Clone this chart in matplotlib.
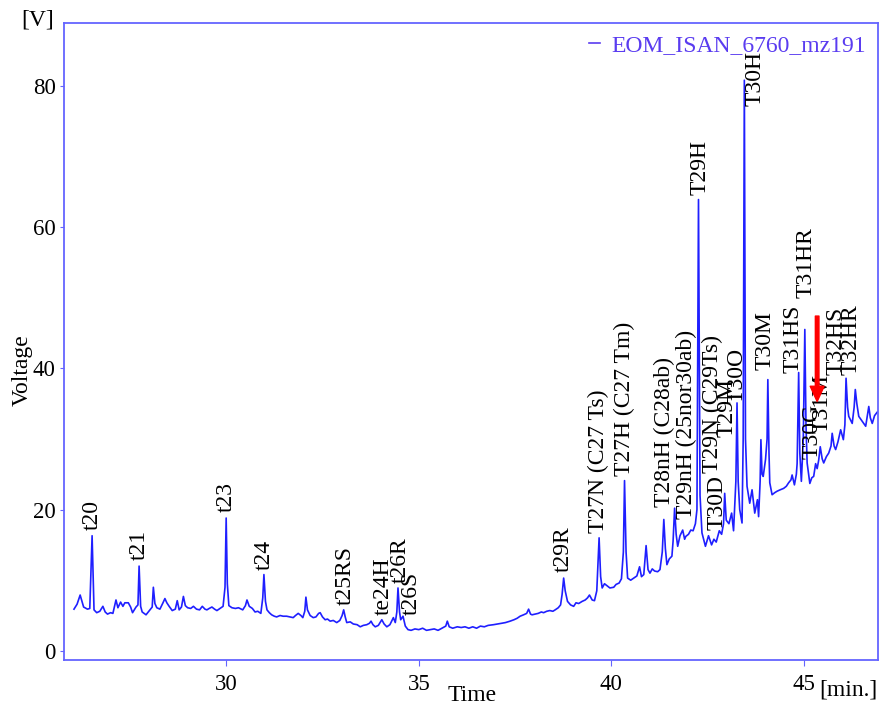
import matplotlib
matplotlib.use("Agg")
import matplotlib.pyplot as plt

# chromatogram trace (time in min, signal in V)
time = [26.05, 26.13, 26.21, 26.30, 26.40, 26.46, 26.52, 26.57, 26.64, 26.72,
        26.80, 26.86, 26.92, 27.00, 27.06, 27.14, 27.19, 27.26, 27.32, 27.37,
        27.46, 27.52, 27.57, 27.66, 27.71, 27.74, 27.78, 27.82, 27.92, 28.02,
        28.08, 28.11, 28.15, 28.20, 28.28, 28.36, 28.41, 28.46, 28.52, 28.60,
        28.68, 28.73, 28.78, 28.84, 28.89, 28.94, 29.00, 29.08, 29.15, 29.23,
        29.31, 29.38, 29.45, 29.50, 29.56, 29.63, 29.70, 29.76, 29.84, 29.92,
        29.97, 30.00, 30.03, 30.07, 30.15, 30.24, 30.32, 30.43, 30.50, 30.54,
        30.60, 30.68, 30.75, 30.82, 30.90, 30.95, 30.98, 31.02, 31.06, 31.12,
        31.18, 31.25, 31.31, 31.40, 31.48, 31.57, 31.65, 31.74, 31.80, 31.87,
        31.94, 31.99, 32.04, 32.07, 32.11, 32.18, 32.26, 32.33, 32.40, 32.44,
        32.50, 32.57, 32.63, 32.70, 32.78, 32.87, 32.95, 33.01, 33.05, 33.09,
        33.13, 33.22, 33.30, 33.40, 33.48, 33.56, 33.65, 33.72, 33.76, 33.81,
        33.87, 33.95, 34.04, 34.10, 34.17, 34.25, 34.34, 34.39, 34.43, 34.46,
        34.50, 34.53, 34.59, 34.65, 34.72, 34.80, 34.90, 35.00, 35.10, 35.20,
        35.30, 35.40, 35.50, 35.60, 35.70, 35.74, 35.79, 35.88, 36.00, 36.10,
        36.20, 36.30, 36.40, 36.50, 36.60, 36.70, 36.80, 36.94, 37.05, 37.15,
        37.25, 37.37, 37.47, 37.55, 37.63, 37.72, 37.80, 37.85, 37.90, 37.94,
        38.02, 38.10, 38.18, 38.24, 38.32, 38.40, 38.48, 38.54, 38.62, 38.68,
        38.72, 38.76, 38.80, 38.86, 38.94, 39.02, 39.08, 39.15, 39.24, 39.32,
        39.38, 39.43, 39.50, 39.56, 39.62, 39.68, 39.72, 39.76, 39.82, 39.89,
        39.96, 40.06, 40.12, 40.20, 40.26, 40.31, 40.34, 40.38, 40.42, 40.50,
        40.58, 40.66, 40.73, 40.78, 40.84, 40.90, 40.95, 41.00, 41.06, 41.12,
        41.20, 41.26, 41.32, 41.36, 41.40, 41.44, 41.50, 41.57, 41.60, 41.64,
        41.68, 41.72, 41.78, 41.85, 41.90, 41.93, 42.00, 42.06, 42.12, 42.18,
        42.22, 42.26, 42.30, 42.35, 42.44, 42.52, 42.60, 42.66, 42.72, 42.80,
        42.86, 42.91, 42.94, 42.98, 43.05, 43.12, 43.17, 43.23, 43.26, 43.29,
        43.33, 43.39, 43.42, 43.45, 43.48, 43.52, 43.59, 43.65, 43.72, 43.79,
        43.82, 43.86, 43.88, 43.91, 43.94, 44.00, 44.04, 44.06, 44.09, 44.11,
        44.17, 44.24, 44.30, 44.38, 44.47, 44.54, 44.60, 44.66, 44.69, 44.75,
        44.80, 44.82, 44.86, 44.89, 44.93, 44.98, 45.02, 45.05, 45.08, 45.15,
        45.20, 45.25, 45.30, 45.34, 45.38, 45.42, 45.47, 45.51, 45.58, 45.64,
        45.70, 45.73, 45.78, 45.82, 45.88, 45.95, 46.02, 46.06, 46.09, 46.13,
        46.16, 46.25, 46.30, 46.33, 46.37, 46.42, 46.51, 46.60, 46.65, 46.68,
        46.72, 46.77, 46.83, 46.90]

voltage = [5.9, 6.6, 7.9, 6.2, 5.9, 6.0, 16.3, 5.8, 5.4, 5.6,
           6.3, 5.5, 5.2, 5.4, 5.3, 7.2, 6.1, 6.9, 6.3, 6.8,
           6.8, 6.2, 5.4, 6.2, 6.5, 12.0, 6.3, 5.5, 5.1, 5.8,
           6.2, 9.0, 6.7, 6.1, 5.9, 6.8, 7.4, 6.8, 6.3, 5.7,
           5.9, 7.1, 5.8, 6.2, 7.7, 6.4, 6.1, 6.0, 6.3, 5.9,
           5.8, 6.3, 5.9, 5.8, 6.0, 6.2, 5.9, 5.7, 6.0, 6.3,
           9.0, 18.8, 9.5, 6.4, 6.1, 6.0, 6.1, 5.8, 6.4, 7.2,
           6.3, 6.0, 5.5, 5.6, 5.3, 7.5, 10.8, 7.0, 5.8, 5.4,
           5.1, 4.9, 4.8, 5.0, 4.9, 4.9, 4.8, 4.7, 5.0, 5.3,
           5.0, 4.7, 5.6, 7.6, 5.8, 5.0, 4.7, 4.8, 5.3, 5.4,
           4.8, 4.4, 4.5, 4.2, 4.3, 4.0, 4.3, 5.0, 5.8, 4.8,
           4.0, 4.1, 3.8, 3.7, 3.4, 3.6, 3.7, 3.9, 4.2, 3.7,
           3.4, 3.6, 4.4, 3.8, 3.4, 3.7, 4.7, 4.0, 5.5, 8.9,
           5.5, 4.4, 4.9, 3.5, 3.0, 2.9, 3.1, 3.0, 3.2, 2.9,
           3.0, 3.1, 2.9, 3.2, 3.5, 4.2, 3.4, 3.2, 3.4, 3.3,
           3.4, 3.2, 3.4, 3.2, 3.5, 3.4, 3.6, 3.7, 3.8, 3.9,
           4.0, 4.2, 4.4, 4.6, 4.9, 5.1, 5.3, 5.9, 5.2, 5.1,
           5.2, 5.3, 5.5, 5.4, 5.6, 5.7, 5.6, 5.8, 6.1, 6.5,
           8.0, 10.3, 8.5, 7.0, 6.5, 6.3, 6.8, 6.7, 7.0, 7.2,
           7.5, 7.9, 7.2, 7.1, 8.5, 16.0, 10.5, 8.9, 9.5, 9.2,
           8.9, 9.0, 9.4, 9.6, 10.2, 14.0, 24.1, 14.0, 10.3, 10.0,
           10.3, 10.6, 11.9, 10.5, 10.8, 14.9, 11.5, 11.0, 11.6, 11.3,
           11.2, 11.5, 14.0, 18.6, 14.5, 12.2, 13.0, 13.4, 15.5, 20.2,
           16.5, 14.8, 16.3, 17.1, 15.8, 16.2, 16.5, 17.1, 17.0, 18.0,
           20.0, 63.9, 22.0, 16.7, 14.8, 16.3, 15.0, 15.8, 15.4, 17.0,
           16.5, 18.0, 22.3, 18.5, 18.0, 19.5, 17.0, 24.0, 35.1, 24.0,
           20.0, 18.1, 30.0, 80.8, 30.0, 23.3, 20.9, 22.8, 19.5, 21.4,
           19.0, 24.0, 29.9, 25.0, 24.7, 27.1, 30.0, 38.4, 28.0, 23.8,
           22.1, 22.4, 22.6, 22.8, 23.0, 23.3, 23.8, 24.2, 24.9, 23.5,
           25.0, 26.5, 39.4, 28.0, 24.0, 30.0, 45.5, 32.0, 26.6, 23.7,
           24.5, 24.7, 26.5, 25.8, 27.0, 28.9, 27.2, 26.6, 27.5, 28.0,
           29.0, 30.8, 29.0, 28.5, 29.6, 31.3, 29.9, 32.0, 38.6, 34.5,
           33.2, 32.2, 34.5, 37.0, 35.0, 33.2, 32.5, 31.8, 33.5, 34.6,
           33.0, 32.2, 33.3, 33.8]

# peak names and where their text starts
peak_names = ["t20", "t21", "t23", "t24", "t25RS", "te24H", "t26R", "t26S",
              "t29R", "T27N (C27 Ts)", "T27H (C27 Tm)", "T28nH (C28ab)",
              "T29nH (25nor30ab)", "T29H", "T30D", "T29N (C29Ts)", "T29M",
              "T30O", "T30H", "T30M", "T31HS", "T31HR", "T30G", "T31M",
              "T32HS", "T32HR"]
name_time = [26.52, 27.74, 30.00, 30.98, 33.09, 34.08, 34.52, 34.80,
             38.75, 39.66, 40.34, 41.37, 41.96, 42.31, 42.74, 42.61, 43.01,
             43.26, 43.74, 44.00, 44.72, 45.04, 45.21, 45.47, 45.82, 46.21]
name_volt = [17.1, 12.9, 19.7, 11.5, 6.5, 5.1, 9.6, 5.1,
             11.2, 16.7, 24.8, 20.3, 18.6, 64.6, 17.1, 25.2, 30.3,
             35.1, 77.1, 39.8, 39.4, 50.0, 27.1, 30.9, 39.1, 39.1]

plt.rcParams['font.family'] = ['Liberation Serif', 'DejaVu Serif']

fig = plt.figure(figsize=(8.86, 7.08), dpi=100)
ax = fig.add_axes([0.0722, 0.0678, 0.9188, 0.8997])

ax.plot(time, voltage, color='#1f1fff', lw=1.2, label='EOM_ISAN_6760_mz191')

for name, t, v in zip(peak_names, name_time, name_volt):
    ax.text(t, v, name, rotation=90, ha='center', va='bottom', fontsize=17)

ax.annotate('', xy=(45.34, 35.3), xytext=(45.34, 47.4),
            arrowprops=dict(color='red', width=2.6, headwidth=10, headlength=11))

ax.set_xlim(25.79, 46.92)
ax.set_ylim(-1.3, 88.9)
ax.set_xticks([30, 35, 40, 45])
ax.set_yticks([0, 20, 40, 60, 80])
ax.tick_params(axis='both', colors='#6464ff', labelcolor='black', labelsize=16.5)
ax.tick_params(axis='x', length=4, pad=6)
ax.tick_params(axis='y', length=3, pad=3)
for s in ax.spines.values():
    s.set_color('#6464ff')
    s.set_linewidth(1.3)

leg = ax.legend(loc='upper right', frameon=False, fontsize=17, handlelength=0.45,
                handletextpad=0.5, borderaxespad=0.1, labelcolor='#5a3cf0')
leg.get_lines()[0].set_color('#5a3cf0')

fig.text(0.043, 0.972, '[V]', fontsize=17, ha='center', va='center')
fig.text(0.025, 0.477, 'Voltage', fontsize=17, rotation=90, ha='center', va='center')
fig.text(0.533, 0.018, 'Time', fontsize=17, ha='center', va='center')
fig.text(0.957, 0.025, '[min.]', fontsize=17, ha='center', va='center')

fig.savefig('out.png', dpi=100)
